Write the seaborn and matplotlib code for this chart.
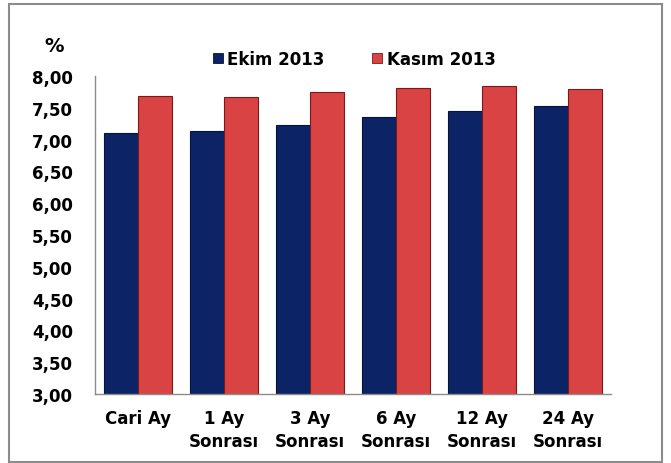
import matplotlib
matplotlib.use("Agg")
import matplotlib.pyplot as plt
from matplotlib.patches import Rectangle, Patch
import seaborn as sns
import pandas as pd

categories = ["Cari Ay", "1 Ay\nSonrası", "3 Ay\nSonrası", "6 Ay\nSonrası", "12 Ay\nSonrası", "24 Ay\nSonrası"]
ekim_2013 = [7.10, 7.14, 7.23, 7.36, 7.45, 7.53]
kasim_2013 = [7.69, 7.67, 7.75, 7.81, 7.84, 7.80]
series_names = ["Ekim 2013", "Kasım 2013"]
y_ticks = [3.0, 3.5, 4.0, 4.5, 5.0, 5.5, 6.0, 6.5, 7.0, 7.5, 8.0]

df = pd.DataFrame({
    "kategori": categories * 2,
    "deger": ekim_2013 + kasim_2013,
    "seri": [series_names[0]] * len(categories) + [series_names[1]] * len(categories),
})

sns.set_style("white")
plt.rcParams["font.family"] = ["DejaVu Sans"]
plt.rcParams["font.weight"] = "bold"
plt.rcParams["text.color"] = "black"

colors = {"Ekim 2013": "#0c2465", "Kasım 2013": "#d94343"}
edges = {"Ekim 2013": "#06143d", "Kasım 2013": "#7a1a1a"}

fig = plt.figure(figsize=(6.71, 4.64), dpi=100)
ax = fig.add_axes([95 / 671, 69 / 464, 516 / 671, 318 / 464])

sns.barplot(data=df, x="kategori", y="deger", hue="seri", palette=colors,
            order=categories, hue_order=series_names, width=0.8, gap=0,
            saturation=1, ax=ax, legend=False)

for cont, name in zip(ax.containers, series_names):
    for bar in cont:
        bar.set_edgecolor(edges[name])
        bar.set_linewidth(0.8)

ax.set_ylim(3.0, 8.0)
ax.set_xlim(-0.5, len(categories) - 0.5)
ax.set_yticks(y_ticks)
ax.set_yticklabels([f"{v:.2f}".replace(".", ",") for v in y_ticks], fontsize=12, fontweight="bold")
ax.set_xticks(range(len(categories)))
ax.set_xticklabels(categories, fontsize=12, fontweight="bold", linespacing=1.35)
ax.set_xticks([i - 0.5 for i in range(len(categories) + 1)], minor=True)
ax.tick_params(axis="x", which="major", length=0, pad=11, labelcolor="black")
ax.tick_params(axis="x", which="minor", length=6, width=1, color="#8c8c8c", direction="out")
ax.tick_params(axis="y", which="major", length=6, width=1, color="#8c8c8c", direction="out",
               pad=10, labelcolor="black")
ax.set_xlabel("")
ax.set_ylabel("")

for s in ["top", "right"]:
    ax.spines[s].set_visible(False)
for s in ["left", "bottom"]:
    ax.spines[s].set_color("#8c8c8c")
    ax.spines[s].set_linewidth(1)

handles = [Patch(facecolor=colors[n], edgecolor=edges[n], linewidth=0.6) for n in series_names]
fig.legend(handles, series_names, loc="center", bbox_to_anchor=(354 / 671, 1 - 60 / 464),
           ncol=2, frameon=False, handlelength=0.6, handleheight=0.6, handletextpad=0.25,
           columnspacing=2.9, prop={"size": 12, "weight": "bold"}, labelcolor="black")

fig.text(54 / 671, 1 - 47 / 464, "%", fontsize=14, fontweight="bold", ha="center", va="center",
         color="black")

fig.patches.append(Rectangle((9 / 671, 1 - 463 / 464), 653 / 671, 458 / 464,
                             transform=fig.transFigure, fill=False,
                             edgecolor="#8c8c8c", linewidth=1.5))

fig.savefig("out.png", dpi=100)
